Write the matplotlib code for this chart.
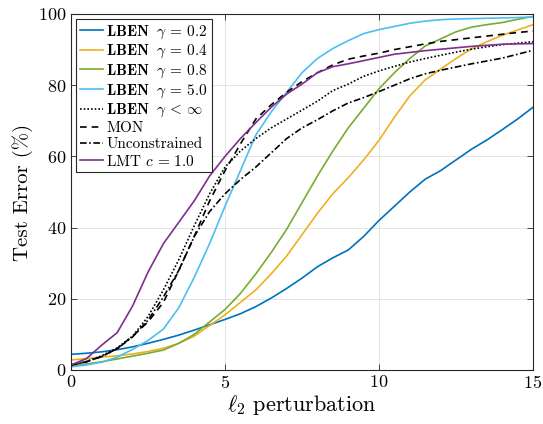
import matplotlib
matplotlib.use("Agg")
import matplotlib.pyplot as plt
import numpy as np

plt.rcParams["font.family"] = "cmr10"
plt.rcParams["mathtext.fontset"] = "cm"
plt.rcParams["axes.formatter.use_mathtext"] = True

# ---------------------------------------------------------------------------
# Datos
# ---------------------------------------------------------------------------

eps = np.arange(0, 15.01, 0.5)

lben_02 = [4.4, 4.7, 5.1, 5.7, 6.5, 7.5, 8.6, 9.8, 11.2, 12.7, 14.2, 15.8, 17.8, 20.2,
           22.9, 25.8, 29.0, 31.5, 33.7, 37.5, 42.0, 46.0, 50.0, 53.6, 56.0, 59.0,
           62.0, 64.6, 67.5, 70.5, 73.8]
lben_04 = [2.8, 3.2, 3.6, 4.0, 4.5, 5.2, 6.1, 7.5, 9.5, 12.5, 15.5, 19.0, 22.5, 27.0,
           32.0, 38.0, 44.0, 49.5, 54.0, 59.0, 64.5, 71.0, 77.0, 81.5, 84.5, 87.5,
           90.2, 92.2, 94.0, 95.5, 97.0]
lben_08 = [1.2, 1.7, 2.3, 3.1, 3.9, 4.7, 5.6, 7.5, 10.0, 13.5, 17.0, 21.5, 27.0, 33.0,
           39.5, 47.0, 54.5, 61.5, 68.0, 73.5, 79.0, 83.5, 87.5, 91.0, 93.0, 95.0,
           96.3, 97.0, 97.6, 98.5, 99.3]
lben_50 = [0.9, 1.4, 2.2, 3.6, 5.8, 8.3, 11.5, 17.5, 26.0, 35.5, 46.0, 56.0, 66.0, 72.5,
           78.0, 83.5, 87.5, 90.3, 92.5, 94.5, 95.6, 96.5, 97.4, 98.0, 98.4, 98.6,
           98.7, 98.8, 98.9, 99.0, 99.2]
lben_inf = [1.4, 2.4, 4.0, 6.2, 9.5, 15.0, 22.5, 31.0, 40.5, 49.5, 57.0, 61.5, 65.0, 68.0,
            70.5, 73.0, 75.5, 78.5, 80.3, 82.5, 84.0, 85.3, 86.5, 87.5, 88.4, 89.3,
            90.1, 90.8, 91.4, 91.8, 92.2]
mon = [1.4, 2.3, 3.8, 6.0, 9.5, 13.5, 19.0, 28.0, 37.5, 47.5, 56.0, 63.5, 70.5, 74.5,
       78.0, 81.0, 83.5, 85.7, 87.3, 88.2, 89.0, 90.0, 90.8, 91.6, 92.3, 92.8,
       93.3, 93.8, 94.3, 94.8, 95.2]
unconstrained = [1.4, 2.3, 3.8, 6.0, 9.3, 14.0, 20.5, 28.0, 37.5, 44.5, 49.5, 53.5, 57.0,
                 61.0, 65.0, 68.0, 70.3, 72.8, 75.0, 76.5, 78.2, 80.0, 81.8, 83.2, 84.2,
                 85.1, 86.0, 86.8, 87.6, 88.7, 89.8]
lmt = [1.4, 3.2, 7.0, 10.5, 18.0, 27.5, 35.5, 41.5, 47.5, 54.5, 60.0, 65.0, 69.5, 73.8,
       77.5, 80.3, 83.5, 85.2, 86.0, 86.9, 87.8, 88.7, 89.2, 89.7, 90.1, 90.5,
       90.9, 91.2, 91.5, 91.6, 91.7]

labels = [
    r"$\mathbf{LBEN}\ \ \gamma\,=\,0.2$",
    r"$\mathbf{LBEN}\ \ \gamma\,=\,0.4$",
    r"$\mathbf{LBEN}\ \ \gamma\,=\,0.8$",
    r"$\mathbf{LBEN}\ \ \gamma\,=\,5.0$",
    r"$\mathbf{LBEN}\ \ \gamma\,<\,\infty$",
    "MON",
    "Unconstrained",
    r"LMT $c\,=\,1.0$",
]

# ---------------------------------------------------------------------------
# Gráfica
# ---------------------------------------------------------------------------

series = [lben_02, lben_04, lben_08, lben_50, lben_inf, mon, unconstrained, lmt]
colors = ["#0072BD", "#EDB120", "#77AC30", "#4DBEEE", "k", "k", "k", "#7E2F8E"]
styles = ["-", "-", "-", "-", (0, (1, 1.2)), (0, (4, 3)), (0, (4, 1.5, 1, 1.5)), "-"]

fig = plt.figure(figsize=(5.43, 4.24), dpi=100)
ax = fig.add_axes([0.1308, 0.1274, 0.8508, 0.8396])

for ys, c, ls, lab in zip(series, colors, styles, labels):
    ax.plot(eps, ys, color=c, linestyle=ls, linewidth=1.2, label=lab)

ax.set_xlim(0, 15)
ax.set_ylim(0, 100)
ax.set_xticks([0, 5, 10, 15])
ax.set_yticks([0, 20, 40, 60, 80, 100])
ax.tick_params(direction="in", top=True, right=True, labelsize=13,
               color="#262626", length=4, width=0.6, pad=3)
for s in ax.spines.values():
    s.set_color("#262626")
    s.set_linewidth(0.8)
ax.grid(True, color="#dfdfdf", linewidth=0.6)
ax.set_axisbelow(True)

ax.set_xlabel(r"$\ell_2$ perturbation", fontsize=16, labelpad=1)
ax.set_ylabel("Test Error (%)", fontsize=15, labelpad=4)

leg = ax.legend(loc="upper left", fontsize=11, handlelength=1.5, handletextpad=0.2,
                labelspacing=0.15, borderpad=0.25, borderaxespad=0.35,
                fancybox=False, framealpha=1, edgecolor="#262626")
leg.get_frame().set_linewidth(0.8)

plt.savefig("out.png", dpi=100)
plt.close()
